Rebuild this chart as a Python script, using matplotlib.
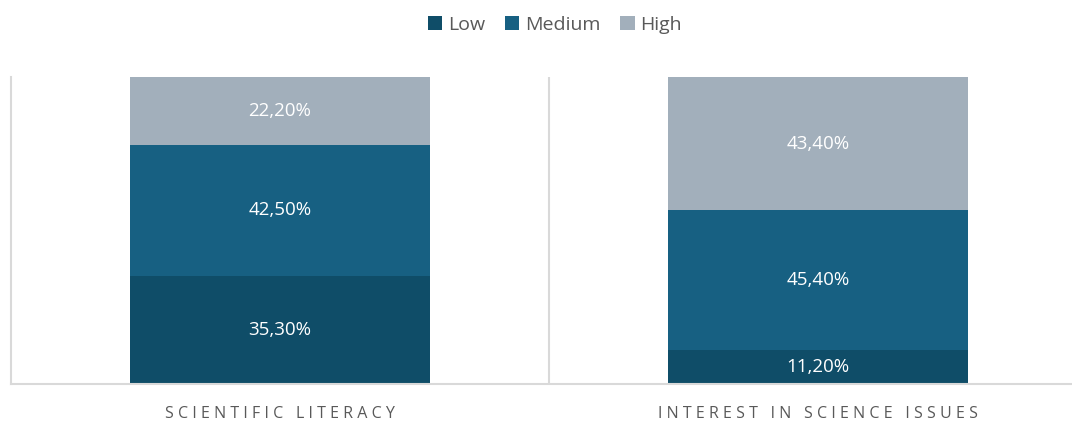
import matplotlib
matplotlib.use("Agg")
import matplotlib.pyplot as plt
import numpy as np

categories = ["SCIENTIFIC LITERACY", "INTEREST IN SCIENCE ISSUES"]
series_names = ["Low", "Medium", "High"]
low = [35.3, 11.2]
medium = [42.5, 45.4]
high = [22.2, 43.4]
colors = ["#0f4d68", "#176082", "#a2afbb"]

plt.rcParams['font.family'] = ['Open Sans', 'DejaVu Sans']

W, H = 1072, 421
fig = plt.figure(figsize=(W / 100, H / 100), dpi=100)
left, right, bottom, top = 11, 1072, 384, 77
ax = fig.add_axes([left / W, 1 - bottom / H, (right - left) / W, (bottom - top) / H])

x = np.arange(len(categories))
unit = 538.0
ax.set_xlim(-0.5, -0.5 + (right - left) / unit)
ax.set_ylim(0, 100)
bw = 300 / unit

base = np.zeros(len(categories))
for name, vals, c in zip(series_names, [low, medium, high], colors):
    vals = np.array(vals)
    ax.bar(x, vals, bw, bottom=base, color=c, label=name, edgecolor='none', zorder=2)
    for xi, b, v in zip(x, base, vals):
        ax.text(xi, b + v / 2, f"{v:.2f}%".replace(".", ","), ha='center', va='center',
                color='white', fontsize=13.5, zorder=3)
    base = base + vals

for s in ['top', 'right']:
    ax.spines[s].set_visible(False)
ax.spines['left'].set_color('#d9d9d9')
ax.spines['left'].set_linewidth(1.5)
ax.spines['bottom'].set_color('#d9d9d9')
ax.spines['bottom'].set_linewidth(1.5)
ax.axvline(0.5, color='#d9d9d9', lw=1.5, zorder=1)
ax.set_yticks([])
ax.set_xticks(x)
gap = "\u2009\u200a"
spaced = [gap.join(list(c)).replace(gap + " " + gap, gap * 3) for c in categories]
ax.set_xticklabels(spaced, color='#595959', fontsize=11.5)
ax.tick_params(axis='x', length=0, pad=16)

handles, labels = ax.get_legend_handles_labels()
fig.legend(handles, labels, loc='center', bbox_to_anchor=(555 / W, 1 - 25 / H), ncol=3,
           frameon=False, fontsize=14, labelcolor='#595959', handlelength=0.75, handleheight=0.75,
           handletextpad=0.3, columnspacing=1.0)

fig.savefig("out.png", dpi=100)
